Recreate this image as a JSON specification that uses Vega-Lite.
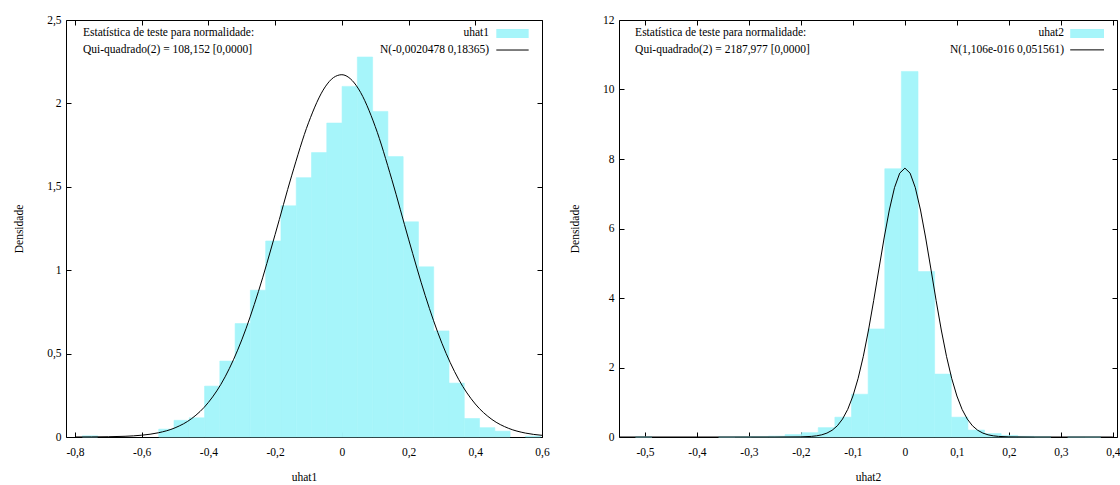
{
  "$schema": "https://vega.github.io/schema/vega-lite/v6.json",
  "padding": {"left": 13, "top": 13, "right": 0, "bottom": 0},
  "background": "white",
  "spacing": 19,
  "config": {
    "font": "Liberation Serif",
    "view": {"stroke": "#000000", "strokeWidth": 1},
    "axis": {"grid": false, "domain": false, "ticks": true, "tickSize": -5, "tickColor": "#000000", "tickWidth": 1,
      "labelFont": "Liberation Serif", "labelFontSize": 11.5, "labelColor": "#000000", "labelFlush": false, "labelOverlap": false,
      "titleFont": "Liberation Serif", "titleFontSize": 11.5, "titleFontWeight": "normal", "titleColor": "#000000"},
    "axisX": {"labelPadding": 14, "titlePadding": 14},
    "axisY": {"labelPadding": 10, "titlePadding": 22},
    "text": {"font": "Liberation Serif", "fontSize": 11.5, "color": "#000000"}
  },
  "datasets": {
    "h1": [
      {"x0": -0.778, "x1": -0.732, "density": 0.007},
      {"x0": -0.549, "x1": -0.5032, "density": 0.047},
      {"x0": -0.5032, "x1": -0.4574, "density": 0.100},
      {"x0": -0.4574, "x1": -0.4116, "density": 0.115},
      {"x0": -0.4116, "x1": -0.3658, "density": 0.305},
      {"x0": -0.3658, "x1": -0.3200, "density": 0.455},
      {"x0": -0.3200, "x1": -0.2742, "density": 0.680},
      {"x0": -0.2742, "x1": -0.2284, "density": 0.880},
      {"x0": -0.2284, "x1": -0.1826, "density": 1.175},
      {"x0": -0.1826, "x1": -0.1368, "density": 1.386},
      {"x0": -0.1368, "x1": -0.0910, "density": 1.555},
      {"x0": -0.0910, "x1": -0.0452, "density": 1.705},
      {"x0": -0.0452, "x1": 0.0006, "density": 1.882},
      {"x0": 0.0006, "x1": 0.0464, "density": 2.102},
      {"x0": 0.0464, "x1": 0.0922, "density": 2.278},
      {"x0": 0.0922, "x1": 0.1380, "density": 1.952},
      {"x0": 0.1380, "x1": 0.1838, "density": 1.681},
      {"x0": 0.1838, "x1": 0.2296, "density": 1.290},
      {"x0": 0.2296, "x1": 0.2754, "density": 1.020},
      {"x0": 0.2754, "x1": 0.3212, "density": 0.636},
      {"x0": 0.3212, "x1": 0.3670, "density": 0.323},
      {"x0": 0.3670, "x1": 0.4128, "density": 0.111},
      {"x0": 0.4128, "x1": 0.4586, "density": 0.056},
      {"x0": 0.4586, "x1": 0.5044, "density": 0.035},
      {"x0": 0.5502, "x1": 0.5960, "density": 0.005}
    ],
    "c1": [
      {"x": -0.80, "density": 0.0002},
      {"x": -0.75, "density": 0.0005},
      {"x": -0.70, "density": 0.0016},
      {"x": -0.65, "density": 0.0043},
      {"x": -0.60, "density": 0.0108},
      {"x": -0.55, "density": 0.0253},
      {"x": -0.50, "density": 0.0550},
      {"x": -0.45, "density": 0.1109},
      {"x": -0.40, "density": 0.2075},
      {"x": -0.35, "density": 0.3607},
      {"x": -0.30, "density": 0.5823},
      {"x": -0.25, "density": 0.8727},
      {"x": -0.20, "density": 1.2147},
      {"x": -0.15, "density": 1.5699},
      {"x": -0.10, "density": 1.8838},
      {"x": -0.05, "density": 2.0991},
      {"x": -0.025, "density": 2.1550},
      {"x": 0.00, "density": 2.1720},
      {"x": 0.025, "density": 2.1487},
      {"x": 0.05, "density": 2.0867},
      {"x": 0.10, "density": 1.8616},
      {"x": 0.15, "density": 1.5421},
      {"x": 0.20, "density": 1.1862},
      {"x": 0.25, "density": 0.8473},
      {"x": 0.30, "density": 0.5619},
      {"x": 0.35, "density": 0.3460},
      {"x": 0.40, "density": 0.1979},
      {"x": 0.45, "density": 0.1051},
      {"x": 0.50, "density": 0.0518},
      {"x": 0.55, "density": 0.0237},
      {"x": 0.60, "density": 0.0101}
    ],
    "h2": [
      {"x0": -0.5184, "x1": -0.4864, "density": 0.006},
      {"x0": -0.3585, "x1": -0.3265, "density": 0.005},
      {"x0": -0.3265, "x1": -0.2946, "density": 0.010},
      {"x0": -0.2946, "x1": -0.2626, "density": 0.015},
      {"x0": -0.2626, "x1": -0.2306, "density": 0.025},
      {"x0": -0.2306, "x1": -0.1986, "density": 0.070},
      {"x0": -0.1986, "x1": -0.1667, "density": 0.125},
      {"x0": -0.1667, "x1": -0.1347, "density": 0.270},
      {"x0": -0.1347, "x1": -0.1027, "density": 0.570},
      {"x0": -0.1027, "x1": -0.0707, "density": 1.230},
      {"x0": -0.0707, "x1": -0.0387, "density": 3.110},
      {"x0": -0.0387, "x1": -0.0068, "density": 7.720},
      {"x0": -0.0068, "x1": 0.0252, "density": 10.520},
      {"x0": 0.0252, "x1": 0.0572, "density": 4.760},
      {"x0": 0.0572, "x1": 0.0892, "density": 1.810},
      {"x0": 0.0892, "x1": 0.1212, "density": 0.570},
      {"x0": 0.1212, "x1": 0.1531, "density": 0.200},
      {"x0": 0.1531, "x1": 0.1851, "density": 0.100},
      {"x0": 0.1851, "x1": 0.2171, "density": 0.045},
      {"x0": 0.2171, "x1": 0.2491, "density": 0.020},
      {"x0": 0.2491, "x1": 0.2811, "density": 0.010},
      {"x0": 0.3130, "x1": 0.3450, "density": 0.005},
      {"x0": 0.3450, "x1": 0.3770, "density": 0.004}
    ],
    "c2": [
      {"x": -0.55, "density": 0},
      {"x": -0.40, "density": 0},
      {"x": -0.30, "density": 0},
      {"x": -0.25, "density": 0.0000},
      {"x": -0.20, "density": 0.0042},
      {"x": -0.18, "density": 0.0175},
      {"x": -0.17, "density": 0.0338},
      {"x": -0.16, "density": 0.0628},
      {"x": -0.15, "density": 0.1124},
      {"x": -0.14, "density": 0.194},
      {"x": -0.13, "density": 0.322},
      {"x": -0.12, "density": 0.516},
      {"x": -0.11, "density": 0.795},
      {"x": -0.10, "density": 1.180},
      {"x": -0.09, "density": 1.687},
      {"x": -0.08, "density": 2.322},
      {"x": -0.07, "density": 3.079},
      {"x": -0.06, "density": 3.931},
      {"x": -0.05, "density": 4.835},
      {"x": -0.04, "density": 5.727},
      {"x": -0.03, "density": 6.532},
      {"x": -0.02, "density": 7.176},
      {"x": -0.01, "density": 7.593},
      {"x": 0.00, "density": 7.737},
      {"x": 0.01, "density": 7.593},
      {"x": 0.02, "density": 7.176},
      {"x": 0.03, "density": 6.532},
      {"x": 0.04, "density": 5.727},
      {"x": 0.05, "density": 4.835},
      {"x": 0.06, "density": 3.931},
      {"x": 0.07, "density": 3.079},
      {"x": 0.08, "density": 2.322},
      {"x": 0.09, "density": 1.687},
      {"x": 0.10, "density": 1.180},
      {"x": 0.11, "density": 0.795},
      {"x": 0.12, "density": 0.516},
      {"x": 0.13, "density": 0.322},
      {"x": 0.14, "density": 0.194},
      {"x": 0.15, "density": 0.1124},
      {"x": 0.16, "density": 0.0628},
      {"x": 0.17, "density": 0.0338},
      {"x": 0.18, "density": 0.0175},
      {"x": 0.20, "density": 0.0042},
      {"x": 0.25, "density": 0.0000},
      {"x": 0.30, "density": 0},
      {"x": 0.40, "density": 0}
    ]
  },
  "hconcat": [
    {
      "width": 476,
      "height": 417,
      "resolve": {"axis": {"x": "independent", "y": "independent"}},
      "layer": [
        {
          "data": {"name": "h1"},
          "mark": {"type": "rect", "color": "#a6f5fa", "stroke": "#a6f5fa", "strokeWidth": 0.6},
          "encoding": {
            "x": {"field": "x0", "type": "quantitative",
              "scale": {"domain": [-0.827, 0.6], "nice": false, "zero": false},
              "axis": {"orient": "bottom", "title": "uhat1", "values": [-0.8, -0.6, -0.4, -0.2, 0, 0.2, 0.4, 0.6],
                "labelExpr": "replace(replace(format(datum.value, '~g'), '.', ','), '\u2212', '-')"}},
            "x2": {"field": "x1"},
            "y": {"field": "density", "type": "quantitative",
              "scale": {"domain": [0, 2.5], "nice": false, "zero": false},
              "axis": {"orient": "left", "title": "Densidade", "values": [0, 0.5, 1, 1.5, 2, 2.5],
                "labelExpr": "replace(replace(format(datum.value, '~g'), '.', ','), '\u2212', '-')"}},
            "y2": {"datum": 0}
          }
        },
        {
          "data": {"name": "c1"},
          "mark": {"type": "line", "color": "#000000", "strokeWidth": 1, "interpolate": "monotone", "clip": true},
          "encoding": {
            "x": {"field": "x", "type": "quantitative",
              "axis": {"orient": "top", "title": null, "labels": false, "values": [-0.8, -0.6, -0.4, -0.2, 0, 0.2, 0.4, 0.6]}},
            "y": {"field": "density", "type": "quantitative",
              "axis": {"orient": "right", "title": null, "labels": false, "values": [0, 0.5, 1, 1.5, 2, 2.5]}}
          }
        },
        {
          "data": {"values": [{}]},
          "mark": {"type": "text", "align": "left", "baseline": "middle", "text": "Estatística de teste para normalidade:"},
          "encoding": {"x": {"datum": -0.776, "type": "quantitative", "axis": null}, "y": {"datum": 2.422, "type": "quantitative", "axis": null}}
        },
        {
          "data": {"values": [{}]},
          "mark": {"type": "text", "align": "left", "baseline": "middle", "text": "Qui-quadrado(2) = 108,152 [0,0000]"},
          "encoding": {"x": {"datum": -0.776, "type": "quantitative", "axis": null}, "y": {"datum": 2.320, "type": "quantitative", "axis": null}}
        },
        {
          "data": {"values": [{}]},
          "mark": {"type": "text", "align": "right", "baseline": "middle", "text": "uhat1"},
          "encoding": {"x": {"datum": 0.441, "type": "quantitative", "axis": null}, "y": {"datum": 2.422, "type": "quantitative", "axis": null}}
        },
        {
          "data": {"values": [{}]},
          "mark": {"type": "text", "align": "right", "baseline": "middle", "text": "N(-0,0020478 0,18365)"},
          "encoding": {"x": {"datum": 0.441, "type": "quantitative", "axis": null}, "y": {"datum": 2.320, "type": "quantitative", "axis": null}}
        },
        {
          "data": {"values": [{}]},
          "mark": {"type": "rect", "color": "#a6f5fa"},
          "encoding": {"x": {"datum": 0.463, "type": "quantitative", "axis": null}, "x2": {"datum": 0.560},
            "y": {"datum": 2.446, "type": "quantitative", "axis": null}, "y2": {"datum": 2.392}}
        },
        {
          "data": {"values": [{}]},
          "mark": {"type": "rule", "color": "#000000", "strokeWidth": 1},
          "encoding": {"x": {"datum": 0.463, "type": "quantitative", "axis": null}, "x2": {"datum": 0.560},
            "y": {"datum": 2.320, "type": "quantitative", "axis": null}}
        }
      ]
    },
    {
      "width": 498,
      "height": 417,
      "resolve": {"axis": {"x": "independent", "y": "independent"}},
      "layer": [
        {
          "data": {"name": "h2"},
          "mark": {"type": "rect", "color": "#a6f5fa", "stroke": "#a6f5fa", "strokeWidth": 0.6},
          "encoding": {
            "x": {"field": "x0", "type": "quantitative",
              "scale": {"domain": [-0.55, 0.408], "nice": false, "zero": false},
              "axis": {"orient": "bottom", "title": "uhat2", "values": [-0.5, -0.4, -0.3, -0.2, -0.1, 0, 0.1, 0.2, 0.3, 0.4],
                "labelExpr": "replace(replace(format(datum.value, '~g'), '.', ','), '\u2212', '-')"}},
            "x2": {"field": "x1"},
            "y": {"field": "density", "type": "quantitative",
              "scale": {"domain": [0, 12], "nice": false, "zero": false},
              "axis": {"orient": "left", "title": "Densidade", "values": [0, 2, 4, 6, 8, 10, 12],
                "labelExpr": "replace(replace(format(datum.value, '~g'), '.', ','), '\u2212', '-')"}},
            "y2": {"datum": 0}
          }
        },
        {
          "data": {"name": "c2"},
          "mark": {"type": "line", "color": "#000000", "strokeWidth": 1, "interpolate": "linear", "clip": true},
          "encoding": {
            "x": {"field": "x", "type": "quantitative",
              "axis": {"orient": "top", "title": null, "labels": false, "values": [-0.5, -0.4, -0.3, -0.2, -0.1, 0, 0.1, 0.2, 0.3, 0.4]}},
            "y": {"field": "density", "type": "quantitative",
              "axis": {"orient": "right", "title": null, "labels": false, "values": [0, 2, 4, 6, 8, 10, 12]}}
          }
        },
        {
          "data": {"values": [{}]},
          "mark": {"type": "text", "align": "left", "baseline": "middle", "text": "Estatística de teste para normalidade:"},
          "encoding": {"x": {"datum": -0.519, "type": "quantitative", "axis": null}, "y": {"datum": 11.63, "type": "quantitative", "axis": null}}
        },
        {
          "data": {"values": [{}]},
          "mark": {"type": "text", "align": "left", "baseline": "middle", "text": "Qui-quadrado(2) = 2187,977 [0,0000]"},
          "encoding": {"x": {"datum": -0.519, "type": "quantitative", "axis": null}, "y": {"datum": 11.14, "type": "quantitative", "axis": null}}
        },
        {
          "data": {"values": [{}]},
          "mark": {"type": "text", "align": "right", "baseline": "middle", "text": "uhat2"},
          "encoding": {"x": {"datum": 0.306, "type": "quantitative", "axis": null}, "y": {"datum": 11.63, "type": "quantitative", "axis": null}}
        },
        {
          "data": {"values": [{}]},
          "mark": {"type": "text", "align": "right", "baseline": "middle", "text": "N(1,106e-016 0,051561)"},
          "encoding": {"x": {"datum": 0.306, "type": "quantitative", "axis": null}, "y": {"datum": 11.14, "type": "quantitative", "axis": null}}
        },
        {
          "data": {"values": [{}]},
          "mark": {"type": "rect", "color": "#a6f5fa"},
          "encoding": {"x": {"datum": 0.318, "type": "quantitative", "axis": null}, "x2": {"datum": 0.383},
            "y": {"datum": 11.74, "type": "quantitative", "axis": null}, "y2": {"datum": 11.48}}
        },
        {
          "data": {"values": [{}]},
          "mark": {"type": "rule", "color": "#000000", "strokeWidth": 1},
          "encoding": {"x": {"datum": 0.318, "type": "quantitative", "axis": null}, "x2": {"datum": 0.383},
            "y": {"datum": 11.14, "type": "quantitative", "axis": null}}
        }
      ]
    }
  ]
}
